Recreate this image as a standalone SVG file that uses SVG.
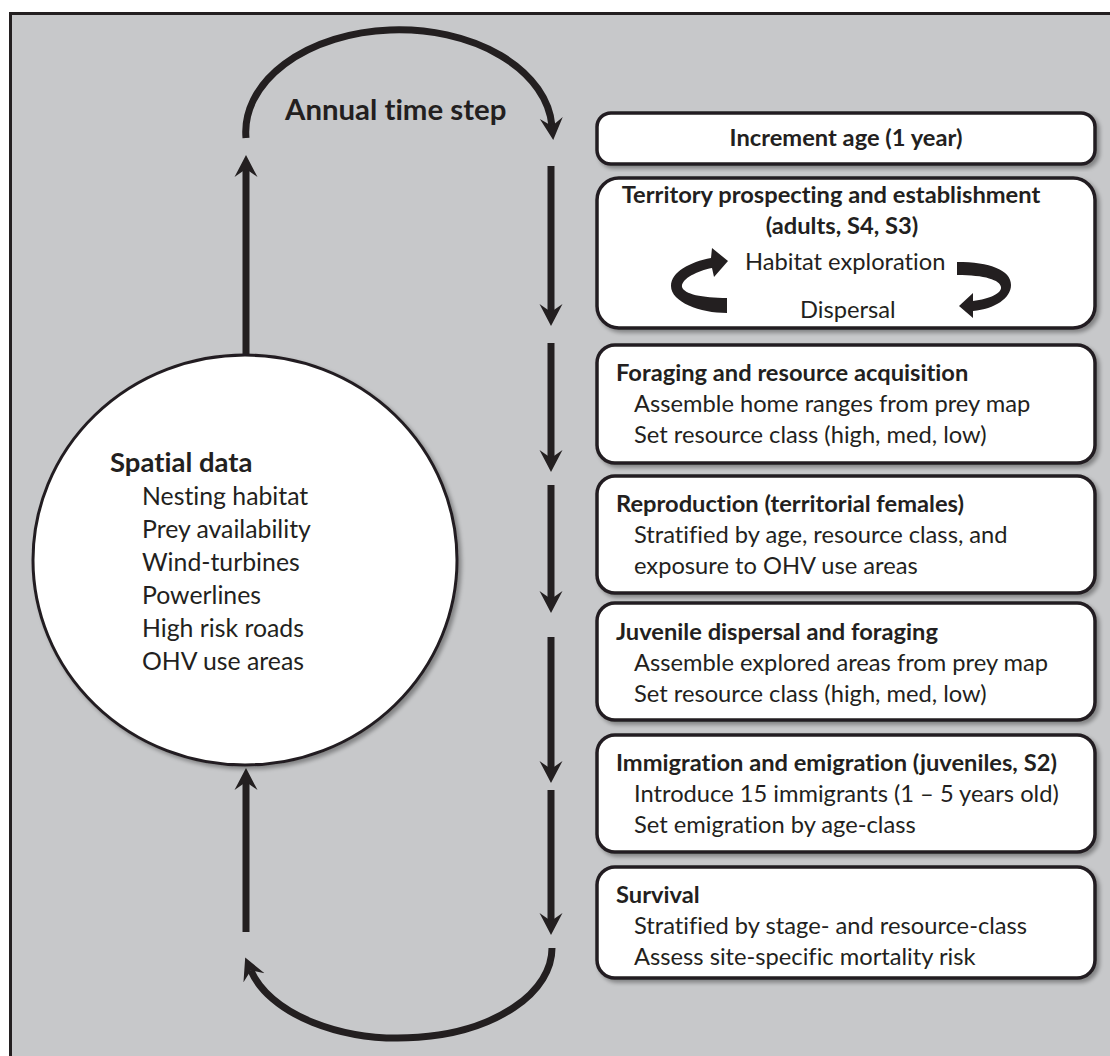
<svg xmlns="http://www.w3.org/2000/svg" width="1110" height="1056" viewBox="0 0 1110 1056">
<defs>
<style>
.bg{fill:#c7c8ca;stroke:#231f20;stroke-width:3}
.box{fill:#fff;stroke:#231f20;stroke-width:3.5}
text{font-variant-ligatures:none;font-feature-settings:"liga" 0,"clig" 0}
.b{font-family:Lato,'Open Sans',sans-serif;font-weight:bold;fill:#231f20}
.r{font-family:Lato,'Open Sans',sans-serif;fill:#231f20}
.t{font-size:23.7px}
.s{font-size:23.7px}
.c{font-size:24.8px}
.ln{fill:none;stroke:#231f20;stroke-width:7}
.rib{fill:#231f20}
</style>
<marker id="ah" markerUnits="userSpaceOnUse" markerWidth="22" markerHeight="24" viewBox="0 -12 22 24" refX="8" refY="0" orient="auto"><path d="M0,-11.5 L22,0 L0,11.5 L8,0 Z" fill="#231f20"/></marker>
<filter id="sh" x="-5%" y="-5%" width="115%" height="120%"><feGaussianBlur in="SourceAlpha" stdDeviation="2"/><feOffset dx="3" dy="3"/><feComponentTransfer><feFuncA type="linear" slope="0.35"/></feComponentTransfer><feMerge><feMergeNode/><feMergeNode in="SourceGraphic"/></feMerge></filter>
</defs>
<rect class="bg" x="10.5" y="13.5" width="1110" height="1060"/>

<g id="connectors">
<path class="ln" d="M246,138 A153,102 0 0 1 552,126" marker-end="url(#ah)"/>
<path class="ln" d="M551,166 V312" marker-end="url(#ah)"/>
<path class="ln" d="M551,343 V458" marker-end="url(#ah)"/>
<path class="ln" d="M551,485 V599" marker-end="url(#ah)"/>
<path class="ln" d="M551,637 V769" marker-end="url(#ah)"/>
<path class="ln" d="M551,790 V921" marker-end="url(#ah)"/>
<path class="ln" d="M552,948 A153,90 0 0 1 250.8,970.4" marker-end="url(#ah)"/>
<path class="ln" d="M246,932 V782" marker-end="url(#ah)"/>
<path class="ln" d="M246,355 V169" marker-end="url(#ah)"/>
</g>
<text class="b" x="285" y="120" style="font-size:29.4px">Annual time step</text>

<g id="spatial">
<ellipse cx="245" cy="560" rx="212" ry="205" fill="#fff" stroke="#231f20" stroke-width="3" filter="url(#sh)"/>
<text class="b" x="110" y="472" style="font-size:27.5px">Spatial data</text>
<text class="r c" x="142" y="505">Nesting habitat</text>
<text class="r c" x="142" y="538">Prey availability</text>
<text class="r c" x="142" y="571">Wind-turbines</text>
<text class="r c" x="142" y="604">Powerlines</text>
<text class="r c" x="142" y="637">High risk roads</text>
<text class="r c" x="142" y="670">OHV use areas</text>
</g>

<g id="increment">
<rect class="box" x="597" y="113" width="498" height="51" rx="14" filter="url(#sh)"/>
<text class="b t" x="846" y="146" text-anchor="middle">Increment age (1 year)</text>
</g>

<g id="territory">
<rect class="box" x="597" y="178" width="498" height="150" rx="22" filter="url(#sh)"/>
<text class="b t" x="831" y="203" text-anchor="middle">Territory prospecting and establishment</text>
<text class="b t" x="842" y="234" text-anchor="middle">(adults, S4, S3)</text>
<text class="r s" x="745" y="270">Habitat exploration</text>
<text class="r s" x="800" y="318">Dispersal</text>
<path class="rib" d="M727,313 L727,298 C702,298 684,294 682,287 C681,279 697,271 712,268 L714,277 L728,261 L712,248 L711,258 C690,262 671,272 671,286 C671,302 700,313 727,313 Z"/>
<path class="rib" d="M957,262 C990,262 1011,270 1011,285 C1011,298 995,309 973,311 L973,318 L959,306 L973,293 L973,301 C990,299 1002,293 1001,287 C1000,280 985,275 957,275 Z"/>
</g>

<g id="foraging">
<rect class="box" x="597" y="345" width="498" height="118" rx="18" filter="url(#sh)"/>
<text class="b t" x="616" y="381">Foraging and resource acquisition</text>
<text class="r s" x="634" y="412">Assemble home ranges from prey map</text>
<text class="r s" x="634" y="443">Set resource class (high, med, low)</text>
</g>

<g id="reproduction">
<rect class="box" x="597" y="476" width="498" height="117" rx="18" filter="url(#sh)"/>
<text class="b t" x="616" y="512">Reproduction (territorial females)</text>
<text class="r s" x="634" y="543">Stratified by age, resource class, and</text>
<text class="r s" x="634" y="574">exposure to OHV use areas</text>
</g>

<g id="juvenile">
<rect class="box" x="597" y="603" width="498" height="117" rx="18" filter="url(#sh)"/>
<text class="b t" x="616" y="640">Juvenile dispersal and foraging</text>
<text class="r s" x="634" y="671">Assemble explored areas from prey map</text>
<text class="r s" x="634" y="702">Set resource class (high, med, low)</text>
</g>

<g id="immigration">
<rect class="box" x="597" y="735" width="498" height="117" rx="18" filter="url(#sh)"/>
<text class="b t" x="616" y="771">Immigration and emigration (juveniles, S2)</text>
<text class="r s" x="634" y="802">Introduce 15 immigrants (1 – 5 years old)</text>
<text class="r s" x="634" y="833">Set emigration by age-class</text>
</g>

<g id="survival">
<rect class="box" x="597" y="867" width="498" height="111" rx="18" filter="url(#sh)"/>
<text class="b t" x="616" y="903">Survival</text>
<text class="r s" x="634" y="934">Stratified by stage- and resource-class</text>
<text class="r s" x="634" y="965">Assess site-specific mortality risk</text>
</g>
</svg>
